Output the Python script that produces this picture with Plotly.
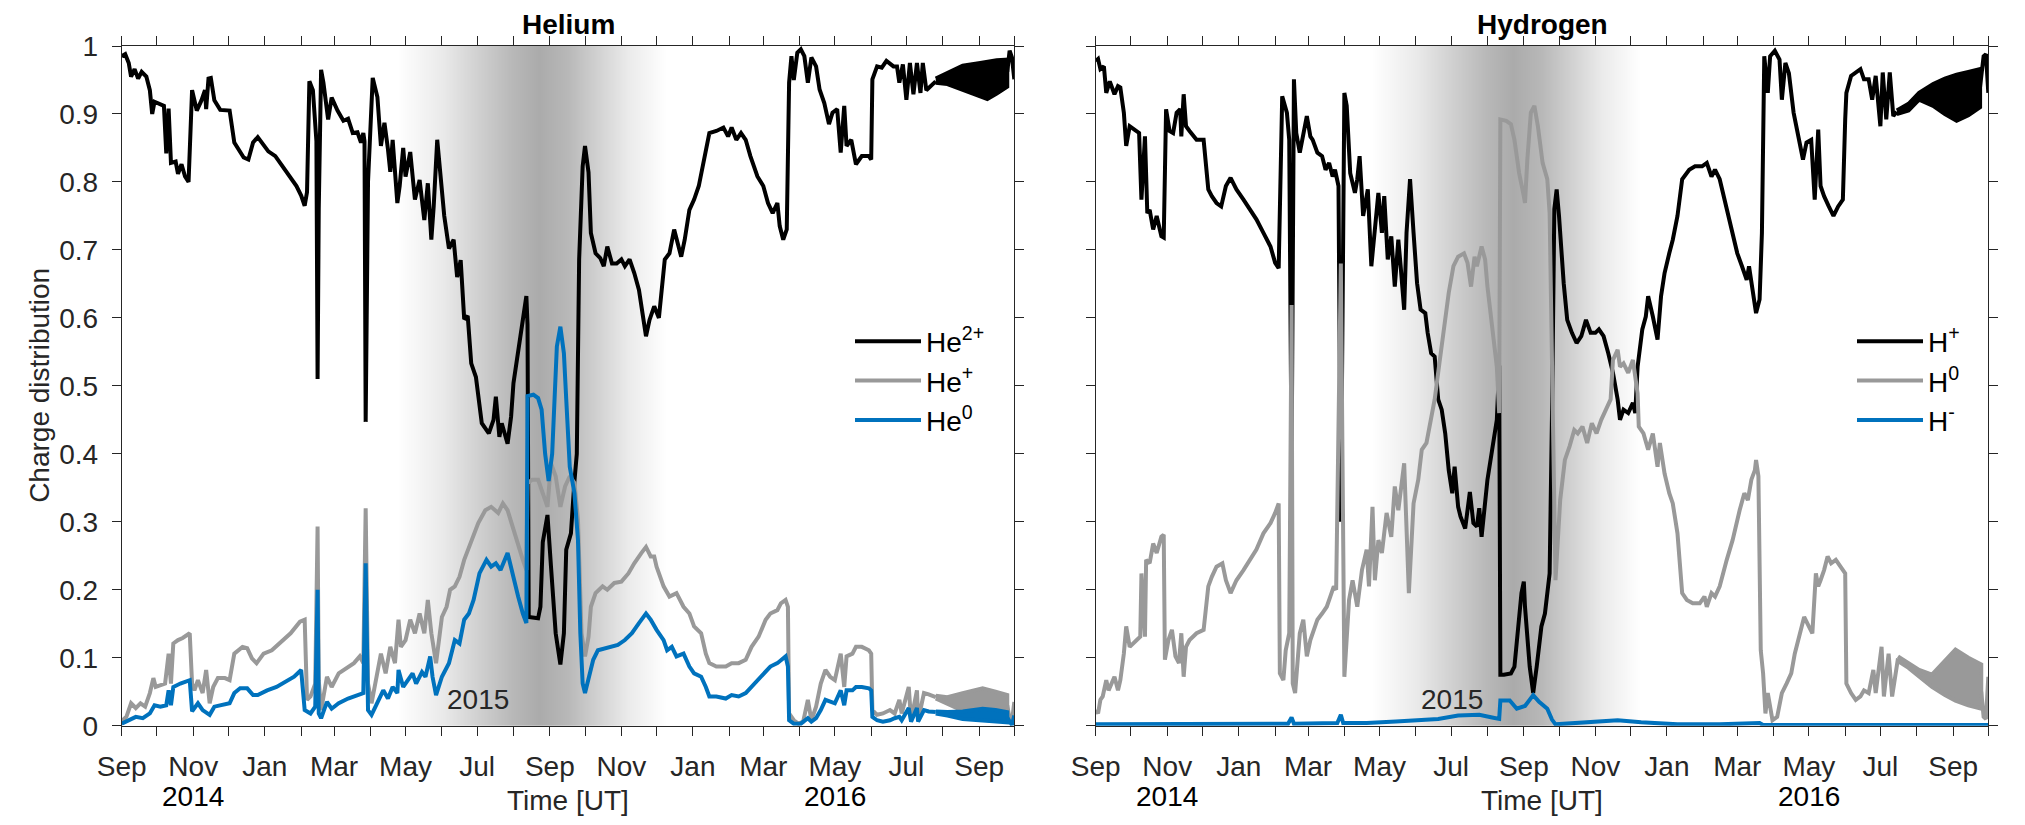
import plotly.graph_objects as go

# ---------------- data ----------------
months = ["2014-09-01","2014-10-01","2014-11-01","2014-12-01","2015-01-01","2015-02-01","2015-03-01",
          "2015-04-01","2015-05-01","2015-06-01","2015-07-01","2015-08-01","2015-09-01","2015-10-01",
          "2015-11-01","2015-12-01","2016-01-01","2016-02-01","2016-03-01","2016-04-01","2016-05-01",
          "2016-06-01","2016-07-01","2016-08-01","2016-09-01","2016-10-01"]
month_labels = ["Sep","","Nov","","Jan","","Mar","","May","","Jul","","Sep","","Nov","","Jan","",
                "Mar","","May","","Jul","","Sep",""]
year_labels = [("2014-11-01", "2014"), ("2016-05-01", "2016")]
inner_year = ("2015-07-02", 0.038, "2015")
yticks = [0, 0.1, 0.2, 0.3, 0.4, 0.5, 0.6, 0.7, 0.8, 0.9, 1]
ytick_text = ["0", "0.1", "0.2", "0.3", "0.4", "0.5", "0.6", "0.7", "0.8", "0.9", "1"]

# grey shading of the perihelion period (relative darkness)
shade_dates = ["2015-04-24","2015-06-01","2015-07-01","2015-08-01","2015-08-22","2015-09-15",
               "2015-10-10","2015-11-05","2015-12-08"]
shade_level = [0, 0.25, 0.55, 0.85, 1.0, 0.85, 0.55, 0.25, 0]

# ---- Helium ----
he2 = [("2014-09-01",0.985),("2014-09-04",0.988),("2014-09-07",0.975),("2014-09-09",0.955),("2014-09-12",0.966),
("2014-09-15",0.952),("2014-09-18",0.962),("2014-09-22",0.955),("2014-09-25",0.935),("2014-09-27",0.900),
("2014-09-29",0.918),("2014-10-07",0.912),("2014-10-09",0.842),("2014-10-11",0.908),("2014-10-13",0.828),
("2014-10-17",0.830),("2014-10-19",0.812),("2014-10-22",0.826),("2014-10-25",0.808),("2014-10-28",0.800),
("2014-10-31",0.935),("2014-11-04",0.905),("2014-11-08",0.920),("2014-11-11",0.935),("2014-11-12",0.907),
("2014-11-14",0.952),("2014-11-16",0.953),("2014-11-19",0.920),("2014-11-24",0.906),("2014-12-02",0.905),
("2014-12-06",0.858),("2014-12-10",0.848),("2014-12-14",0.836),("2014-12-18",0.833),("2014-12-22",0.858),
("2014-12-26",0.866),("2014-12-30",0.857),("2015-01-04",0.845),("2015-01-10",0.838),("2015-01-16",0.823),
("2015-01-22",0.808),("2015-01-28",0.794),("2015-02-01",0.780),("2015-02-04",0.765),("2015-02-06",0.785),
("2015-02-08",0.948),("2015-02-11",0.935),("2015-02-14",0.860),("2015-02-15",0.510),("2015-02-16",0.760),
("2015-02-18",0.965),("2015-02-20",0.946),("2015-02-24",0.892),("2015-02-27",0.924),("2015-03-04",0.905),
("2015-03-09",0.890),("2015-03-13",0.893),("2015-03-17",0.872),("2015-03-21",0.873),("2015-03-24",0.858),
("2015-03-26",0.872),("2015-03-27",0.860),("2015-03-28",0.447),("2015-03-30",0.800),("2015-04-03",0.953),
("2015-04-07",0.925),("2015-04-10",0.853),("2015-04-13",0.887),("2015-04-16",0.848),("2015-04-18",0.815),
("2015-04-20",0.862),("2015-04-24",0.769),("2015-04-26",0.794),("2015-04-29",0.850),("2015-05-01",0.808),
("2015-05-05",0.844),("2015-05-09",0.774),("2015-05-13",0.803),("2015-05-17",0.744),("2015-05-20",0.798),
("2015-05-23",0.715),("2015-05-25",0.764),("2015-05-28",0.862),("2015-05-31",0.798),("2015-06-03",0.750),
("2015-06-07",0.702),("2015-06-11",0.715),("2015-06-14",0.660),("2015-06-17",0.685),("2015-06-20",0.598),
("2015-06-23",0.603),("2015-06-26",0.533),("2015-06-30",0.513),("2015-07-05",0.445),("2015-07-11",0.430),
("2015-07-15",0.450),("2015-07-17",0.484),("2015-07-20",0.425),("2015-07-22",0.445),("2015-07-27",0.415),
("2015-07-30",0.455),("2015-08-01",0.504),("2015-08-05",0.548),("2015-08-09",0.597),("2015-08-12",0.632),
("2015-08-13",0.590),("2015-08-14",0.160),("2015-08-22",0.158),("2015-08-24",0.175),("2015-08-26",0.270),
("2015-08-30",0.310),("2015-09-02",0.234),("2015-09-06",0.136),("2015-09-10",0.090),("2015-09-13",0.136),
("2015-09-15",0.259),("2015-09-19",0.283),("2015-09-22",0.360),("2015-09-24",0.400),("2015-09-26",0.686),
("2015-09-29",0.823),("2015-10-01",0.853),("2015-10-04",0.814),("2015-10-06",0.725),("2015-10-10",0.695),
("2015-10-14",0.688),("2015-10-17",0.676),("2015-10-20",0.705),("2015-10-24",0.680),("2015-10-28",0.680),
("2015-11-01",0.686),("2015-11-04",0.676),("2015-11-08",0.686),("2015-11-12",0.666),("2015-11-16",0.641),
("2015-11-19",0.607),("2015-11-22",0.573),("2015-11-25",0.597),("2015-11-29",0.617),("2015-12-03",0.600),
("2015-12-05",0.636),("2015-12-08",0.686),("2015-12-12",0.695),("2015-12-16",0.730),("2015-12-22",0.690),
("2015-12-25",0.715),("2015-12-29",0.759),("2016-01-02",0.774),("2016-01-06",0.794),("2016-01-10",0.828),
("2016-01-15",0.872),("2016-01-21",0.875),("2016-01-27",0.880),("2016-01-31",0.867),("2016-02-03",0.880),
("2016-02-07",0.862),("2016-02-11",0.872),("2016-02-15",0.862),("2016-02-19",0.838),("2016-02-25",0.808),
("2016-03-01",0.794),("2016-03-05",0.769),("2016-03-09",0.754),("2016-03-13",0.769),("2016-03-15",0.735),
("2016-03-18",0.715),("2016-03-21",0.730),("2016-03-23",0.946),("2016-03-25",0.985),("2016-03-27",0.950),
("2016-03-30",0.990),("2016-04-02",0.995),("2016-04-05",0.985),("2016-04-08",0.946),("2016-04-11",0.983),
("2016-04-15",0.970),("2016-04-18",0.936),("2016-04-22",0.916),("2016-04-26",0.885),("2016-04-29",0.902),
("2016-05-03",0.907),("2016-05-06",0.843),("2016-05-09",0.912),("2016-05-11",0.853),("2016-05-15",0.862),
("2016-05-19",0.826),("2016-05-24",0.838),("2016-05-30",0.838),("2016-06-01",0.833),("2016-06-02",0.951),
("2016-06-06",0.970),("2016-06-10",0.968),("2016-06-14",0.978),("2016-06-20",0.970),("2016-06-23",0.970),
("2016-06-25",0.946),("2016-06-28",0.973),("2016-07-01",0.921),("2016-07-04",0.975),("2016-07-07",0.929),
("2016-07-10",0.975),("2016-07-13",0.931),("2016-07-15",0.975),("2016-07-18",0.935),("2016-07-26",0.948)]
he2_band_dates = ["2016-07-26","2016-08-05","2016-08-18","2016-09-02","2016-09-08","2016-09-16","2016-09-25"]
he2_band_hi = [0.952, 0.960, 0.971, 0.975, 0.977, 0.979, 0.980]
he2_band_lo = [0.946, 0.944, 0.936, 0.926, 0.922, 0.930, 0.940]
he2_tail = [("2016-09-25",0.962),("2016-09-27",0.993),("2016-09-29",0.983),("2016-10-01",0.951)]

hep = [("2014-09-01",0.007),("2014-09-05",0.013),("2014-09-09",0.033),("2014-09-13",0.026),("2014-09-17",0.033),
("2014-09-21",0.028),("2014-09-25",0.048),("2014-09-28",0.070),("2014-09-30",0.057),("2014-10-08",0.062),
("2014-10-11",0.106),("2014-10-13",0.062),("2014-10-15",0.121),("2014-10-19",0.126),("2014-10-23",0.129),
("2014-10-29",0.136),("2014-10-31",0.062),("2014-11-02",0.052),("2014-11-05",0.067),("2014-11-09",0.048),
("2014-11-12",0.082),("2014-11-15",0.033),("2014-11-18",0.057),("2014-11-22",0.070),("2014-11-28",0.070),
("2014-12-02",0.067),("2014-12-06",0.106),("2014-12-09",0.111),("2014-12-13",0.116),("2014-12-17",0.114),
("2014-12-21",0.099),("2014-12-25",0.092),("2014-12-31",0.106),("2015-01-07",0.111),("2015-01-15",0.124),
("2015-01-23",0.136),("2015-01-31",0.153),("2015-02-04",0.156),("2015-02-06",0.038),("2015-02-09",0.043),
("2015-02-13",0.062),("2015-02-15",0.293),("2015-02-16",0.067),("2015-02-18",0.023),("2015-02-23",0.072),
("2015-02-27",0.057),("2015-03-05",0.077),("2015-03-13",0.087),("2015-03-18",0.092),("2015-03-23",0.102),
("2015-03-26",0.092),("2015-03-28",0.320),("2015-03-30",0.062),("2015-04-02",0.033),("2015-04-06",0.072),
("2015-04-10",0.106),("2015-04-14",0.077),("2015-04-18",0.116),("2015-04-22",0.092),("2015-04-25",0.156),
("2015-04-27",0.116),("2015-05-01",0.126),("2015-05-05",0.156),("2015-05-09",0.136),("2015-05-13",0.165),
("2015-05-17",0.136),("2015-05-20",0.185),("2015-05-23",0.136),("2015-05-27",0.092),("2015-06-01",0.160),
("2015-06-05",0.175),("2015-06-08",0.200),("2015-06-12",0.205),("2015-06-16",0.219),("2015-06-20",0.244),
("2015-06-24",0.263),("2015-06-28",0.278),("2015-07-02",0.298),("2015-07-08",0.317),("2015-07-13",0.322),
("2015-07-19",0.313),("2015-07-23",0.327),("2015-07-27",0.317),("2015-07-31",0.293),("2015-08-05",0.268),
("2015-08-09",0.244),("2015-08-12",0.229),("2015-08-13",0.357),("2015-08-17",0.362),("2015-08-22",0.362),
("2015-08-26",0.342),("2015-08-30",0.322),("2015-09-02",0.386),("2015-09-06",0.367),("2015-09-10",0.322),
("2015-09-14",0.352),("2015-09-18",0.367),("2015-09-22",0.357),("2015-09-25",0.303),("2015-09-28",0.136),
("2015-10-01",0.102),("2015-10-04",0.131),("2015-10-06",0.175),("2015-10-10",0.195),("2015-10-16",0.205),
("2015-10-20",0.200),("2015-10-26",0.210),("2015-11-01",0.212),("2015-11-07",0.224),("2015-11-12",0.239),
("2015-11-18",0.254),("2015-11-22",0.263),("2015-11-26",0.249),("2015-11-29",0.249),("2015-12-01",0.234),
("2015-12-07",0.205),("2015-12-12",0.190),("2015-12-18",0.195),("2015-12-24",0.175),("2015-12-29",0.165),
("2016-01-02",0.146),("2016-01-08",0.136),("2016-01-12",0.106),("2016-01-15",0.092),("2016-01-21",0.087),
("2016-01-29",0.087),("2016-02-03",0.092),("2016-02-09",0.092),("2016-02-15",0.097),("2016-02-20",0.116),
("2016-02-26",0.131),("2016-03-03",0.156),("2016-03-07",0.165),("2016-03-13",0.170),("2016-03-16",0.180),
("2016-03-20",0.185),("2016-03-22",0.175),("2016-03-23",0.018),("2016-03-27",0.008),("2016-03-31",0.003),
("2016-04-04",0.006),("2016-04-08",0.038),("2016-04-11",0.008),("2016-04-15",0.028),("2016-04-19",0.062),
("2016-04-23",0.082),("2016-04-27",0.072),("2016-05-01",0.067),("2016-05-06",0.106),("2016-05-09",0.057),
("2016-05-11",0.102),("2016-05-16",0.106),("2016-05-19",0.116),("2016-05-24",0.116),("2016-05-30",0.111),
("2016-06-01",0.106),("2016-06-02",0.023),("2016-06-06",0.016),("2016-06-11",0.018),("2016-06-17",0.023),
("2016-06-21",0.018),("2016-06-25",0.038),("2016-06-27",0.018),("2016-07-03",0.057),("2016-07-05",0.008),
("2016-07-10",0.052),("2016-07-11",0.008),("2016-07-16",0.048),("2016-07-20",0.046),("2016-07-26",0.042)]
hep_band_dates = ["2016-07-26","2016-08-05","2016-08-18","2016-09-04","2016-09-15","2016-09-25"]
hep_band_hi = [0.044, 0.042, 0.048, 0.055, 0.050, 0.045]
hep_band_lo = [0.040, 0.032, 0.022, 0.022, 0.018, 0.015]
hep_tail = [("2016-09-25",0.030),("2016-09-27",0.010),("2016-09-29",0.006),("2016-10-01",0.035)]

he0 = [("2014-09-01",0.003),("2014-09-07",0.008),("2014-09-13",0.013),("2014-09-19",0.011),("2014-09-25",0.018),
("2014-09-29",0.030),("2014-10-04",0.028),("2014-10-09",0.030),("2014-10-11",0.052),("2014-10-13",0.030),
("2014-10-15",0.057),("2014-10-21",0.062),("2014-10-29",0.067),("2014-10-31",0.021),("2014-11-05",0.033),
("2014-11-09",0.023),("2014-11-13",0.018),("2014-11-15",0.016),("2014-11-19",0.028),("2014-11-26",0.030),
("2014-12-02",0.033),("2014-12-06",0.048),("2014-12-11",0.055),("2014-12-17",0.055),("2014-12-22",0.045),
("2014-12-26",0.045),("2015-01-03",0.052),("2015-01-11",0.057),("2015-01-19",0.065),("2015-01-26",0.072),
("2015-02-01",0.082),("2015-02-04",0.023),("2015-02-09",0.018),("2015-02-13",0.028),("2015-02-15",0.200),
("2015-02-16",0.018),("2015-02-18",0.011),("2015-02-23",0.035),("2015-02-27",0.025),("2015-03-05",0.033),
("2015-03-13",0.040),("2015-03-20",0.045),("2015-03-26",0.048),("2015-03-28",0.239),("2015-03-30",0.023),
("2015-04-02",0.016),("2015-04-07",0.033),("2015-04-12",0.052),("2015-04-16",0.040),("2015-04-20",0.057),
("2015-04-24",0.048),("2015-04-25",0.082),("2015-04-29",0.057),("2015-05-03",0.067),("2015-05-07",0.077),
("2015-05-10",0.062),("2015-05-15",0.079),("2015-05-18",0.072),("2015-05-22",0.102),("2015-05-24",0.072),
("2015-05-27",0.045),("2015-06-01",0.072),("2015-06-07",0.092),("2015-06-12",0.126),("2015-06-16",0.121),
("2015-06-20",0.156),("2015-06-24",0.165),("2015-06-28",0.185),("2015-07-03",0.224),("2015-07-09",0.244),
("2015-07-13",0.234),("2015-07-17",0.239),("2015-07-21",0.229),("2015-07-27",0.254),("2015-07-31",0.224),
("2015-08-05",0.190),("2015-08-09",0.165),("2015-08-12",0.151),("2015-08-13",0.485),("2015-08-18",0.487),
("2015-08-22",0.482),("2015-08-25",0.465),("2015-08-28",0.400),("2015-08-31",0.360),("2015-09-03",0.400),
("2015-09-07",0.558),("2015-09-10",0.587),("2015-09-13",0.548),("2015-09-15",0.480),("2015-09-18",0.381),
("2015-09-22",0.342),("2015-09-25",0.273),("2015-09-27",0.136),("2015-09-29",0.062),("2015-10-01",0.048),
("2015-10-05",0.077),("2015-10-08",0.097),("2015-10-12",0.111),("2015-10-18",0.114),("2015-10-24",0.116),
("2015-10-29",0.119),("2015-11-04",0.126),("2015-11-10",0.136),("2015-11-16",0.151),("2015-11-22",0.165),
("2015-11-26",0.156),("2015-12-01",0.141),("2015-12-07",0.126),("2015-12-10",0.111),("2015-12-14",0.116),
("2015-12-18",0.102),("2015-12-24",0.106),("2015-12-29",0.087),("2016-01-02",0.077),("2016-01-08",0.072),
("2016-01-12",0.057),("2016-01-15",0.043),("2016-01-21",0.043),("2016-01-29",0.040),("2016-02-03",0.045),
("2016-02-09",0.043),("2016-02-15",0.048),("2016-02-20",0.057),("2016-02-26",0.067),("2016-03-03",0.079),
("2016-03-07",0.087),("2016-03-13",0.092),("2016-03-16",0.097),("2016-03-20",0.102),("2016-03-22",0.087),
("2016-03-23",0.008),("2016-03-27",0.003),("2016-04-02",0.003),("2016-04-08",0.011),("2016-04-11",0.006),
("2016-04-15",0.011),("2016-04-19",0.023),("2016-04-23",0.038),("2016-04-27",0.035),("2016-05-01",0.033),
("2016-05-06",0.052),("2016-05-09",0.030),("2016-05-11",0.052),("2016-05-16",0.052),("2016-05-19",0.057),
("2016-05-24",0.057),("2016-05-30",0.055),("2016-06-01",0.052),("2016-06-02",0.013),("2016-06-06",0.008),
("2016-06-11",0.006),("2016-06-17",0.008),("2016-06-21",0.011),("2016-06-25",0.013),("2016-06-27",0.008),
("2016-07-03",0.026),("2016-07-05",0.006),("2016-07-10",0.026),("2016-07-11",0.006),("2016-07-16",0.023),
("2016-07-20",0.021),("2016-07-26",0.020)]
he0_band_dates = ["2016-07-26","2016-08-05","2016-08-18","2016-09-04","2016-09-15","2016-09-25"]
he0_band_hi = [0.021, 0.020, 0.021, 0.025, 0.023, 0.020]
he0_band_lo = [0.018, 0.015, 0.010, 0.008, 0.006, 0.005]
he0_tail = [("2016-09-25",0.012),("2016-09-27",0.005),("2016-09-29",0.001),("2016-10-01",0.015)]

# ---- Hydrogen ----
hp = [("2014-09-01",0.978),("2014-09-03",0.981),("2014-09-05",0.966),("2014-09-08",0.970),("2014-09-10",0.931),
("2014-09-13",0.948),("2014-09-17",0.929),("2014-09-20",0.941),("2014-09-22",0.939),("2014-09-25",0.902),
("2014-09-27",0.853),("2014-09-30",0.882),("2014-10-04",0.877),("2014-10-08",0.872),("2014-10-10",0.774),
("2014-10-13",0.867),("2014-10-15",0.754),("2014-10-17",0.759),("2014-10-20",0.730),("2014-10-23",0.750),
("2014-10-27",0.720),("2014-10-29",0.718),("2014-10-31",0.907),("2014-11-03",0.875),("2014-11-06",0.872),
("2014-11-09",0.902),("2014-11-12",0.907),("2014-11-13",0.867),("2014-11-15",0.929),("2014-11-17",0.882),
("2014-11-20",0.875),("2014-11-26",0.862),("2014-12-02",0.862),("2014-12-06",0.789),("2014-12-09",0.779),
("2014-12-13",0.769),("2014-12-17",0.764),("2014-12-21",0.794),("2014-12-25",0.806),("2014-12-30",0.789),
("2015-01-05",0.774),("2015-01-11",0.759),("2015-01-16",0.745),("2015-01-22",0.725),("2015-01-28",0.705),
("2015-02-01",0.681),("2015-02-04",0.673),("2015-02-07",0.926),("2015-02-11",0.902),("2015-02-13",0.862),
("2015-02-15",0.380),("2015-02-17",0.951),("2015-02-19",0.872),("2015-02-22",0.843),("2015-02-25",0.872),
("2015-02-28",0.897),("2015-03-03",0.867),("2015-03-05",0.862),("2015-03-09",0.843),("2015-03-13",0.838),
("2015-03-16",0.818),("2015-03-19",0.828),("2015-03-22",0.808),("2015-03-24",0.818),("2015-03-27",0.794),
("2015-03-29",0.300),("2015-04-01",0.931),("2015-04-03",0.912),("2015-04-06",0.813),("2015-04-10",0.784),
("2015-04-12",0.804),("2015-04-14",0.838),("2015-04-17",0.750),("2015-04-21",0.789),("2015-04-24",0.676),
("2015-04-27",0.735),("2015-04-30",0.784),("2015-05-03",0.725),("2015-05-05",0.779),("2015-05-08",0.686),
("2015-05-11",0.720),("2015-05-14",0.646),("2015-05-17",0.715),("2015-05-19",0.676),("2015-05-22",0.612),
("2015-05-24",0.725),("2015-05-27",0.804),("2015-05-30",0.725),("2015-06-02",0.651),("2015-06-05",0.612),
("2015-06-09",0.607),("2015-06-11",0.578),("2015-06-14",0.548),("2015-06-17",0.543),("2015-06-20",0.480),
("2015-06-23",0.465),("2015-06-26",0.430),("2015-06-29",0.376),("2015-07-02",0.342),("2015-07-04",0.381),
("2015-07-07",0.322),("2015-07-09",0.308),("2015-07-13",0.290),("2015-07-17",0.344),("2015-07-20",0.298),
("2015-07-23",0.293),("2015-07-25",0.320),("2015-07-27",0.278),("2015-07-30",0.335),("2015-08-01",0.362),
("2015-08-05",0.406),("2015-08-09",0.450),("2015-08-11",0.530),("2015-08-12",0.075),("2015-08-15",0.075),
("2015-08-21",0.077),("2015-08-24",0.087),("2015-08-27",0.146),("2015-08-30",0.195),("2015-09-01",0.212),
("2015-09-02",0.175),("2015-09-06",0.087),("2015-09-09",0.048),("2015-09-12",0.087),("2015-09-16",0.146),
("2015-09-19",0.165),("2015-09-23",0.224),("2015-09-25",0.455),("2015-09-27",0.760),("2015-09-29",0.789),
("2015-10-01",0.750),("2015-10-05",0.651),("2015-10-08",0.597),("2015-10-12",0.578),("2015-10-16",0.563),
("2015-10-20",0.573),("2015-10-24",0.597),("2015-10-28",0.578),("2015-11-01",0.578),("2015-11-04",0.583),
("2015-11-08",0.573),("2015-11-12",0.548),("2015-11-16",0.519),("2015-11-20",0.480),("2015-11-22",0.450),
("2015-11-25",0.465),("2015-11-29",0.460),("2015-12-03",0.475),("2015-12-05",0.460),("2015-12-07",0.528),
("2015-12-11",0.583),("2015-12-14",0.602),("2015-12-16",0.632),("2015-12-20",0.602),("2015-12-24",0.568),
("2015-12-27",0.632),("2015-12-30",0.666),("2016-01-03",0.695),("2016-01-06",0.715),("2016-01-10",0.750),
("2016-01-14",0.804),("2016-01-20",0.818),("2016-01-25",0.823),("2016-01-31",0.823),("2016-02-04",0.828),
("2016-02-08",0.808),("2016-02-11",0.818),("2016-02-15",0.804),("2016-02-19",0.774),("2016-02-23",0.750),
("2016-02-26",0.725),("2016-03-01",0.695),("2016-03-05",0.676),("2016-03-09",0.656),("2016-03-11",0.676),
("2016-03-14",0.636),("2016-03-17",0.607),("2016-03-20",0.627),("2016-03-22",0.725),("2016-03-24",0.985),
("2016-03-27",0.931),("2016-03-29",0.985),("2016-04-02",0.993),("2016-04-06",0.980),("2016-04-08",0.921),
("2016-04-11",0.975),("2016-04-14",0.960),("2016-04-18",0.902),("2016-04-22",0.867),("2016-04-26",0.833),
("2016-04-29",0.858),("2016-05-03",0.862),("2016-05-06",0.774),("2016-05-09",0.877),("2016-05-11",0.794),
("2016-05-14",0.779),("2016-05-18",0.764),("2016-05-22",0.750),("2016-05-26",0.764),("2016-05-30",0.774),
("2016-06-01",0.892),("2016-06-02",0.931),("2016-06-06",0.956),("2016-06-10",0.961),("2016-06-14",0.966),
("2016-06-17",0.951),("2016-06-21",0.951),("2016-06-24",0.921),("2016-06-27",0.956),("2016-07-01",0.882),
("2016-07-03",0.961),("2016-07-06",0.892),("2016-07-09",0.961),("2016-07-12",0.897),("2016-07-15",0.903)]
hp_band_dates = ["2016-07-15","2016-07-25","2016-08-03","2016-08-15","2016-08-25","2016-09-04","2016-09-14","2016-09-24"]
hp_band_hi = [0.905, 0.915, 0.931, 0.944, 0.952, 0.958, 0.962, 0.966]
hp_band_lo = [0.900, 0.905, 0.921, 0.912, 0.900, 0.890, 0.898, 0.910]
hp_tail = [("2016-09-24",0.940),("2016-09-27",0.985),("2016-09-29",0.988),("2016-10-01",0.931)]

h0 = [("2014-09-01",0.023),("2014-09-03",0.018),("2014-09-05",0.038),("2014-09-07",0.043),("2014-09-10",0.067),
("2014-09-12",0.052),("2014-09-17",0.072),("2014-09-20",0.052),("2014-09-22",0.067),("2014-09-25",0.106),
("2014-09-27",0.146),("2014-09-30",0.116),("2014-10-06",0.126),("2014-10-09",0.131),("2014-10-10",0.224),
("2014-10-13",0.131),("2014-10-14",0.244),("2014-10-17",0.239),("2014-10-20",0.268),("2014-10-23",0.254),
("2014-10-27",0.278),("2014-10-29",0.281),("2014-10-30",0.097),("2014-11-02",0.126),("2014-11-05",0.141),
("2014-11-08",0.102),("2014-11-11",0.092),("2014-11-13",0.136),("2014-11-15",0.072),("2014-11-17",0.116),
("2014-11-20",0.126),("2014-11-26",0.136),("2014-12-02",0.141),("2014-12-06",0.205),("2014-12-09",0.219),
("2014-12-13",0.234),("2014-12-18",0.239),("2014-12-21",0.214),("2014-12-25",0.195),("2014-12-30",0.214),
("2015-01-05",0.229),("2015-01-11",0.244),("2015-01-16",0.259),("2015-01-22",0.283),("2015-01-28",0.298),
("2015-02-01",0.313),("2015-02-04",0.327),("2015-02-05",0.077),("2015-02-08",0.067),("2015-02-10",0.111),
("2015-02-13",0.136),("2015-02-15",0.619),("2015-02-16",0.062),("2015-02-18",0.048),("2015-02-22",0.136),
("2015-02-25",0.156),("2015-02-28",0.102),("2015-03-03",0.126),("2015-03-06",0.141),("2015-03-09",0.156),
("2015-03-13",0.165),("2015-03-17",0.175),("2015-03-20",0.190),("2015-03-23",0.205),("2015-03-25",0.200),
("2015-03-29",0.680),("2015-04-01",0.072),("2015-04-05",0.185),("2015-04-08",0.214),("2015-04-12",0.175),
("2015-04-16",0.229),("2015-04-20",0.259),("2015-04-22",0.205),("2015-04-25",0.322),("2015-04-27",0.214),
("2015-04-30",0.273),("2015-05-03",0.254),("2015-05-07",0.313),("2015-05-11",0.278),("2015-05-14",0.352),
("2015-05-17",0.317),("2015-05-22",0.386),("2015-05-26",0.195),("2015-05-30",0.327),("2015-06-03",0.362),
("2015-06-06",0.406),("2015-06-10",0.416),("2015-06-14",0.450),("2015-06-17",0.480),("2015-06-21",0.533),
("2015-06-26",0.597),("2015-06-29",0.637),("2015-07-03",0.676),("2015-07-07",0.690),("2015-07-12",0.695),
("2015-07-15",0.681),("2015-07-18",0.646),("2015-07-21",0.690),("2015-07-23",0.676),("2015-07-27",0.705),
("2015-07-30",0.686),("2015-08-01",0.646),("2015-08-05",0.587),("2015-08-09",0.528),("2015-08-11",0.460),
("2015-08-12",0.892),("2015-08-17",0.890),("2015-08-21",0.885),("2015-08-24",0.862),("2015-08-28",0.813),
("2015-09-01",0.779),("2015-09-02",0.769),("2015-09-04",0.833),("2015-09-07",0.902),("2015-09-10",0.912),
("2015-09-13",0.882),("2015-09-17",0.828),("2015-09-21",0.804),("2015-09-23",0.754),("2015-09-26",0.450),
("2015-09-28",0.214),("2015-10-02",0.332),("2015-10-06",0.391),("2015-10-10",0.411),("2015-10-14",0.435),
("2015-10-17",0.430),("2015-10-21",0.440),("2015-10-25",0.416),("2015-10-29",0.445),("2015-11-02",0.430),
("2015-11-06",0.450),("2015-11-10",0.465),("2015-11-14",0.480),("2015-11-16",0.538),("2015-11-20",0.553),
("2015-11-22",0.528),("2015-11-25",0.533),("2015-11-29",0.519),("2015-12-03",0.538),("2015-12-07",0.489),
("2015-12-08",0.440),("2015-12-12",0.430),("2015-12-16",0.406),("2015-12-20",0.430),("2015-12-24",0.381),
("2015-12-26",0.416),("2015-12-30",0.371),("2016-01-03",0.342),("2016-01-06",0.327),("2016-01-10",0.283),
("2016-01-14",0.195),("2016-01-18",0.185),("2016-01-23",0.180),("2016-01-29",0.180),("2016-02-02",0.190),
("2016-02-04",0.175),("2016-02-08",0.195),("2016-02-11",0.190),("2016-02-15",0.205),("2016-02-21",0.244),
("2016-02-26",0.273),("2016-03-03",0.317),("2016-03-07",0.342),("2016-03-10",0.332),("2016-03-13",0.362),
("2016-03-16",0.376),("2016-03-17",0.391),("2016-03-19",0.367),("2016-03-21",0.111),("2016-03-23",0.077),
("2016-03-25",0.018),("2016-03-27",0.048),("2016-03-31",0.008),("2016-04-04",0.013),("2016-04-08",0.048),
("2016-04-12",0.062),("2016-04-16",0.077),("2016-04-19",0.106),("2016-04-23",0.136),("2016-04-27",0.160),
("2016-05-01",0.146),("2016-05-04",0.136),("2016-05-07",0.224),("2016-05-09",0.205),("2016-05-11",0.214),
("2016-05-14",0.229),("2016-05-17",0.249),("2016-05-20",0.239),("2016-05-24",0.244),("2016-05-28",0.234),
("2016-06-01",0.224),("2016-06-02",0.062),("2016-06-06",0.048),("2016-06-10",0.038),("2016-06-14",0.043),
("2016-06-17",0.052),("2016-06-21",0.048),("2016-06-25",0.082),("2016-06-27",0.048),("2016-07-02",0.116),
("2016-07-04",0.043),("2016-07-08",0.106),("2016-07-11",0.043),("2016-07-16",0.099)]
h0_band_dates = ["2016-07-16","2016-07-25","2016-08-03","2016-08-14","2016-08-25","2016-09-03","2016-09-14","2016-09-25"]
h0_band_hi = [0.102, 0.092, 0.082, 0.075, 0.095, 0.112, 0.100, 0.090]
h0_band_lo = [0.095, 0.085, 0.072, 0.057, 0.045, 0.037, 0.030, 0.025]
h0_tail = [("2016-09-25",0.050),("2016-09-27",0.013),("2016-09-29",0.010),("2016-10-01",0.072)]

hm = [("2014-09-01",0.002),("2015-02-12",0.003),("2015-02-15",0.012),("2015-02-17",0.003),("2015-03-26",0.004),
("2015-03-29",0.016),("2015-03-31",0.004),("2015-04-20",0.004),("2015-05-15",0.006),("2015-06-10",0.009),
("2015-06-20",0.010),("2015-07-07",0.015),("2015-07-25",0.016),("2015-08-05",0.012),("2015-08-11",0.010),
("2015-08-12",0.037),("2015-08-20",0.037),("2015-08-26",0.025),("2015-09-02",0.029),("2015-09-09",0.045),
("2015-09-14",0.035),("2015-09-21",0.025),("2015-09-25",0.009),("2015-09-28",0.002),("2015-10-15",0.004),
("2015-11-05",0.006),("2015-11-20",0.008),("2015-12-10",0.005),("2016-01-10",0.002),("2016-02-15",0.002),
("2016-03-20",0.004),("2016-03-23",0.001),("2016-10-01",0.001)]

# ---------------- styling ----------------
FONT = "Liberation Sans, Arial, Helvetica, sans-serif"
AX = "#262626"
BLACK, GRAY, BLUE = "#000000", "#999999", "#0072BD"
LW = 4
FS = 28

fig = go.Figure()

def unzip(pairs):
    return [p[0] for p in pairs], [p[1] for p in pairs]

def add_shade(xa, ya):
    fig.add_trace(go.Heatmap(x=shade_dates, y=[0, 1], z=[shade_level, shade_level],
                             zmin=0, zmax=1, zsmooth="best", showscale=False, hoverinfo="skip",
                             colorscale=[[0, "#ffffff"], [1, "#ababab"]], xaxis=xa, yaxis=ya))

def add_series(main, band_d, band_hi, band_lo, tail, color, name, xa, ya, legend, group):
    d, v = unzip(main)
    fig.add_trace(go.Scatter(x=d, y=v, mode="lines", line=dict(color=color, width=LW),
                             name=name, legend=legend, legendgroup=group, xaxis=xa, yaxis=ya))
    fig.add_trace(go.Scatter(x=band_d + band_d[::-1], y=band_hi + band_lo[::-1], mode="lines",
                             fill="toself", fillcolor=color, line=dict(color=color, width=LW),
                             showlegend=False, legendgroup=group, xaxis=xa, yaxis=ya))
    td, tv = unzip(tail)
    fig.add_trace(go.Scatter(x=td, y=tv, mode="lines", line=dict(color=color, width=LW),
                             showlegend=False, legendgroup=group, xaxis=xa, yaxis=ya))

add_shade("x", "y")
add_series(he2, he2_band_dates, he2_band_hi, he2_band_lo, he2_tail, BLACK, "He<sup>2+</sup>", "x", "y", "legend", "a")
add_series(hep, hep_band_dates, hep_band_hi, hep_band_lo, hep_tail, GRAY, "He<sup>+</sup>", "x", "y", "legend", "b")
add_series(he0, he0_band_dates, he0_band_hi, he0_band_lo, he0_tail, BLUE, "He<sup>0</sup>", "x", "y", "legend", "c")

add_shade("x2", "y2")
add_series(hp, hp_band_dates, hp_band_hi, hp_band_lo, hp_tail, BLACK, "H<sup>+</sup>", "x2", "y2", "legend2", "d")
add_series(h0, h0_band_dates, h0_band_hi, h0_band_lo, h0_tail, GRAY, "H<sup>0</sup>", "x2", "y2", "legend2", "e")
hd, hv = unzip(hm)
fig.add_trace(go.Scatter(x=hd, y=hv, mode="lines", line=dict(color=BLUE, width=LW), name="H<sup>-</sup>",
                         legend="legend2", legendgroup="f", xaxis="x2", yaxis="y2"))

W, H = 2025, 825
def px_x(p): return p / W
def px_y(p): return (H - p) / H

xdom1 = [px_x(121.7), px_x(1014.3)]
xdom2 = [px_x(1095.7), px_x(1988.3)]
ydom = [px_y(725.7), px_y(46)]

common_x = dict(type="date", range=[months[0], months[-1]], tickmode="array", tickvals=months,
                ticktext=month_labels, ticks="outside", ticklen=9, tickwidth=1, tickcolor=AX,
                showline=True, linecolor=AX, linewidth=1, mirror="ticks", showgrid=False, zeroline=False,
                tickfont=dict(family=FONT, size=FS, color=AX), tickangle=0, automargin=False,
                ticklabelstandoff=7)
common_y = dict(range=[0, 1], tickmode="array", tickvals=yticks, ticktext=ytick_text, ticks="outside",
                ticklen=9, tickwidth=1, tickcolor=AX, showline=True, linecolor=AX, linewidth=1,
                mirror="ticks", showgrid=False, zeroline=False, automargin=False,
                tickfont=dict(family=FONT, size=FS, color=AX), ticklabelstandoff=8)

leg_common = dict(font=dict(family=FONT, size=FS, color="#000000"), bgcolor="rgba(0,0,0,0)",
                  itemwidth=66, tracegroupgap=18, traceorder="normal", xanchor="left", yanchor="top",
                  itemclick=False, itemdoubleclick=False)

fig.update_layout(
    width=W, height=H, margin=dict(l=0, r=0, t=0, b=0, autoexpand=False),
    paper_bgcolor="white", plot_bgcolor="white", showlegend=True,
    font=dict(family=FONT, size=FS, color=AX),
    xaxis=dict(domain=xdom1, anchor="y", **common_x),
    yaxis=dict(domain=ydom, anchor="x", **common_y),
    xaxis2=dict(domain=xdom2, anchor="y2", **common_x),
    yaxis2=dict(domain=ydom, anchor="x2", showticklabels=False, **common_y),
    legend=dict(x=px_x(850), y=px_y(316.5), **leg_common),
    legend2=dict(x=px_x(1852), y=px_y(316.5), **leg_common),
)

ann = []
for xa, xd in (("x", xdom1), ("x2", xdom2)):
    cx = (xd[0] + xd[1]) / 2
    ann.append(dict(text="Time [UT]", x=cx, y=px_y(800), xref="paper", yref="paper", showarrow=False,
                    xanchor="center", yanchor="middle", font=dict(family=FONT, size=FS, color=AX)))
    for d, t in year_labels:
        ann.append(dict(text=t, x=d, y=px_y(796), xref=xa, yref="paper", showarrow=False,
                        xanchor="center", yanchor="middle", font=dict(family=FONT, size=FS, color="#000000")))
    ann.append(dict(text=inner_year[2], x=inner_year[0], y=inner_year[1], xref=xa,
                    yref="y" if xa == "x" else "y2", showarrow=False, xanchor="center", yanchor="middle",
                    font=dict(family=FONT, size=FS, color=AX)))
ann.append(dict(text="Charge distribution", x=px_x(40), y=(ydom[0] + ydom[1]) / 2, xref="paper", yref="paper",
                textangle=-90, showarrow=False, xanchor="center", yanchor="middle",
                font=dict(family=FONT, size=FS, color=AX)))
ann.append(dict(text="<b>Helium</b>", x=sum(xdom1) / 2, y=px_y(25), xref="paper", yref="paper",
                showarrow=False, xanchor="center", yanchor="middle", font=dict(family=FONT, size=28, color="#000000")))
ann.append(dict(text="<b>Hydrogen</b>", x=sum(xdom2) / 2, y=px_y(25), xref="paper", yref="paper",
                showarrow=False, xanchor="center", yanchor="middle", font=dict(family=FONT, size=28, color="#000000")))
fig.update_layout(annotations=ann)

fig.write_html("out.html")
